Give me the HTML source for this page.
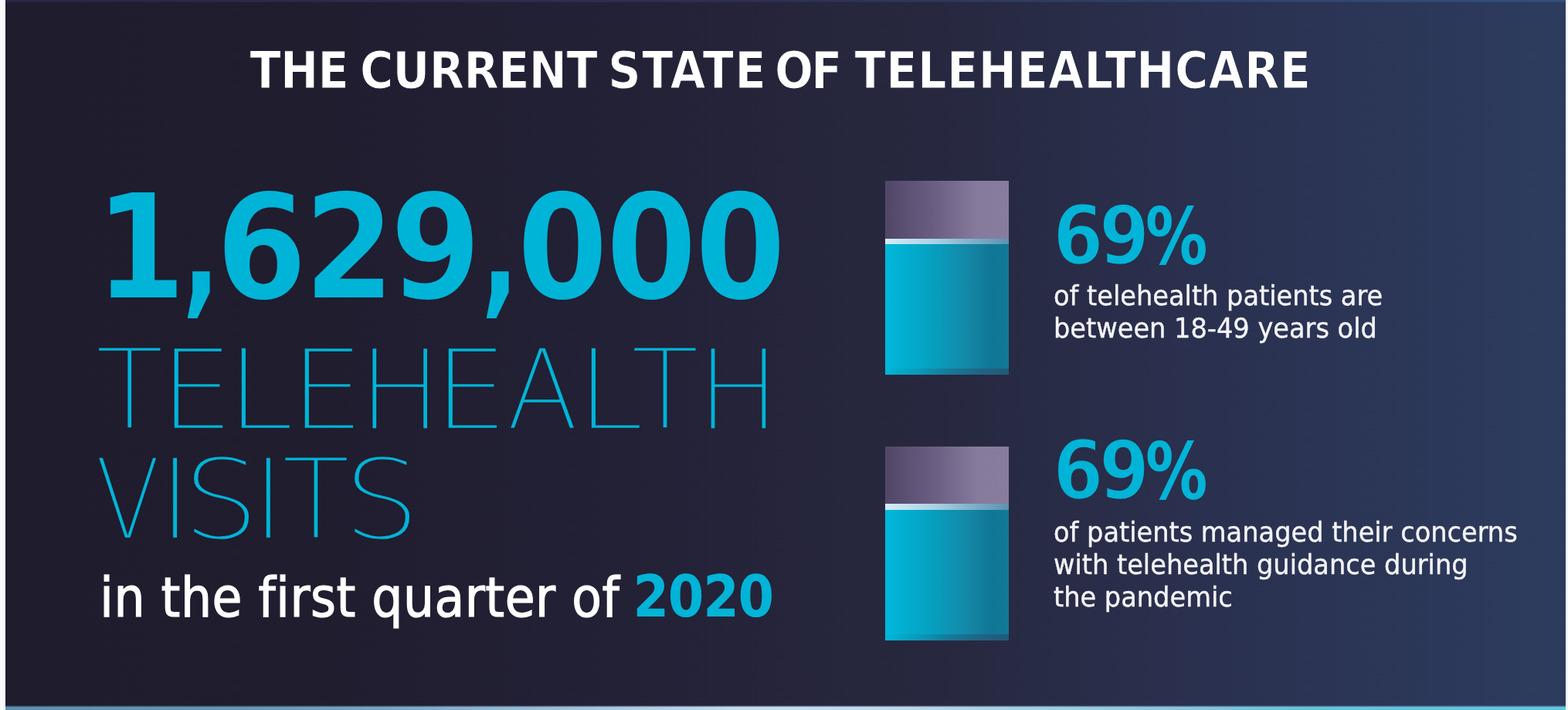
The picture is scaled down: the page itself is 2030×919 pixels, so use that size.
<!DOCTYPE html>
<html lang="en">
<head>
<meta charset="utf-8">
<title>The Current State of Telehealthcare</title>
<style>
  html, body { margin: 0; padding: 0; overflow: hidden; }
  body {
    width: 2030px; height: 919px; overflow: hidden; position: relative;
    background: #f8f9fc;
  }
  .panel {
    position: absolute; left: 7px; top: 0; width: 2020px; height: 919px;
    background: linear-gradient(90deg, #1f1c2e 0%, #201d2f 20%, #232136 40%, #27283f 60%, #2a3150 78%, #2d3c5e 100%);
    overflow: hidden;
  }
  .topline {
    position: absolute; left: 0; top: 0; width: 100%; height: 3.4px;
    background: linear-gradient(90deg, #2c2447 0%, #2e3152 50%, #30507a 100%);
    -webkit-mask-image: linear-gradient(to bottom, #000 2px, transparent 3.4px);
    mask-image: linear-gradient(to bottom, #000 2px, transparent 3.4px);
  }
  .botline {
    position: absolute; left: 0; bottom: 0; width: 100%; height: 6px;
    background: linear-gradient(90deg, #5a92b0 0%, #6399b4 15%, #77a9c8 25%, #9bbfd8 35%, #c4dcee 47%, #c2dcee 55%, #b3d4e8 60%, #98cfe2 68%, #8cc6de 74%, #6ac0da 84%, #64c4e0 100%);
    -webkit-mask-image: linear-gradient(to bottom, transparent 0, #000 2.5px);
    mask-image: linear-gradient(to bottom, transparent 0, #000 2.5px);
  }
  .t { position: absolute; white-space: nowrap; line-height: 1; margin: 0; font-variant-ligatures: none; }
  .dc { font-family: "DejaVu Sans Condensed", "DejaVu Sans", sans-serif; font-stretch: condensed; }
  .title { color: #ffffff; font-weight: bold; font-size: 65.4px; letter-spacing: -0.6px; }
  .cyan { color: #00b4d7; }
  .big { font-weight: bold; font-size: 189.5px; }
  .thin { font-family: "DejaVu Sans", sans-serif; font-weight: 200; font-size: 144px; color: #00b4d7; }
  .sub { color: #ffffff; font-size: 70.3px; letter-spacing: 0.52px; -webkit-text-stroke: 1.2px #ffffff; }
  .sub b { color: #00b4d7; font-weight: bold; font-size: 74.5px; letter-spacing: -1.3px; -webkit-text-stroke: 0; }
  .pct { font-weight: bold; font-size: 105px; color: #00b4d7; letter-spacing: -6px; -webkit-text-stroke: 2.4px #292e4a; }
  .pct span { margin-left: 0.2px; -webkit-text-stroke: 0; display: inline-block; transform: scale(0.85, 0.965); transform-origin: 0 88px; }
  .body { color: #f4f4f8; -webkit-text-stroke: 0.35px #f4f4f8; font-size: 35.7px; line-height: 42.2px; transform: scaleX(1.047); transform-origin: 0 0; }
  .bar { position: absolute; left: 1138.5px; width: 160.5px; height: 251.6px; }
  .bar .top { position: absolute; left: 0; top: 0; width: 100%; height: 74.8px;
    background: linear-gradient(90deg, #514668 0%, #6a5f82 40%, #867b9d 75%, #877c9e 100%); }
  .bar .strip { position: absolute; left: 0; top: 74.8px; width: 100%; height: 7.9px;
    background: linear-gradient(90deg, #d3edf8 0%, #a9d2e4 40%, #7fb1ca 70%, #5a93b0 100%); }
  .bar .fill { position: absolute; left: 0; top: 82.7px; width: 100%; height: 168.9px;
    background: linear-gradient(90deg, #00b8da 0%, #05a2c2 35%, #1489a8 65%, #117797 85%, #127898 100%); }
  .bar .base { position: absolute; left: 0; bottom: 0; width: 100%; height: 8.5px;
    background: linear-gradient(90deg, #00b6d9 0%, #0a9bbb 25%, #167b9a 50%, #1f6585 75%, #245878 100%); }
</style>
</head>
<body>
<div class="panel">
  <div class="topline"></div>

  <div class="t dc title" style="left:316.4px; top:59.4px;"><span style="-webkit-text-stroke:1px #201d2f">THE</span><span style="margin-left:-5px"> </span><span style="-webkit-text-stroke:1px #221f33">CURRENT</span><span style="margin-left:-5.6px"> </span><span style="-webkit-text-stroke:1px #242238;letter-spacing:1.55px">STATE</span><span style="margin-left:-10.2px"> </span><span style="-webkit-text-stroke:1px #25253b;letter-spacing:-3.00px">OF</span><span style="margin-left:-0.4px"> </span><span style="-webkit-text-stroke:1px #282c47;letter-spacing:0.55px">TELEHEALTHCARE</span></div>

  <div class="t dc big cyan" style="left:115.4px; top:226.2px;"><span style="margin-right:-12.6px;-webkit-text-stroke:2px #1f1c2e">1</span><span style="margin-right:-14.0px;-webkit-text-stroke:2px #201d2f;display:inline-block;transform:scaleX(0.8)">,</span><span style="margin-right:-4.8px;-webkit-text-stroke:2px #201d2f">6</span><span style="margin-right:-6.8px;-webkit-text-stroke:2px #201d30">2</span><span style="margin-right:-8.8px;-webkit-text-stroke:2px #211f32">9</span><span style="margin-right:-10.4px;-webkit-text-stroke:2px #221f33;display:inline-block;transform:scaleX(0.8)">,</span><span style="margin-right:-3.8px;-webkit-text-stroke:2px #222034">0</span><span style="margin-right:-3.4px;-webkit-text-stroke:2px #232137">0</span><span style="-webkit-text-stroke:2px #242339">0</span></div>
  <div class="t thin" style="left:116.7px; top:432.7px;"><span style="margin-right:-2.2px;-webkit-text-stroke:2.4px #1f1c2e">T</span><span style="margin-right:-8.4px;-webkit-text-stroke:2.4px #201d2f;display:inline-block;transform:scaleX(1.07)">E</span><span style="margin-right:6.2px;-webkit-text-stroke:2.4px #201d2f;display:inline-block;transform:scaleX(1.11);transform-origin:0 0">L</span><span style="margin-right:-5.85px;-webkit-text-stroke:2.4px #201d2f;display:inline-block;transform:scaleX(1.07)">E</span><span style="margin-right:-7.65px;-webkit-text-stroke:2.4px #211e31">H</span><span style="margin-right:-2.1px;-webkit-text-stroke:2.4px #211f32;display:inline-block;transform:scaleX(1.07)">E</span><span style="margin-right:-6.2px;-webkit-text-stroke:2.4px #222034;display:inline-block;transform:scaleX(0.95)">A</span><span style="margin-right:-8.7px;-webkit-text-stroke:2.4px #232136;display:inline-block;transform:scaleX(1.11);transform-origin:0 0">L</span><span style="margin-right:-3.0px;-webkit-text-stroke:2.4px #232237">T</span><span style="-webkit-text-stroke:2.4px #242339">H</span></div>
  <div class="t thin" style="left:116.25px; top:574.5px; letter-spacing:-5.2px;"><span style="margin-right:-11.0px;-webkit-text-stroke:2.4px #1f1c2e;display:inline-block;transform:scaleX(0.86);transform-origin:0 0">V</span><span style="margin-right:-2.5px;-webkit-text-stroke:2.4px #201d2f">I</span><span style="margin-right:-0.35px;-webkit-text-stroke:2.4px #201d2f;display:inline-block;transform:scaleX(1.1)">S</span><span style="margin-right:1.6px;-webkit-text-stroke:2.4px #201d2f">I</span><span style="margin-right:0.2px;-webkit-text-stroke:2.4px #201d2f">T</span><span style="-webkit-text-stroke:2.4px #211e30;display:inline-block;transform:scaleX(1.1)">S</span></div>
  <div class="t dc sub" style="left:122.3px; top:736.0px;">in the first quarter of<span style="margin-left:-3.3px"> </span><b>2020</b></div>

  <div class="bar" style="top:233.8px;"><div class="top"></div><div class="strip"></div><div class="fill"></div><div class="base"></div></div>
  <div class="bar" style="top:577.5px;"><div class="top"></div><div class="strip"></div><div class="fill"></div><div class="base"></div></div>

  <div class="t dc pct" style="left:1356px; top:253.8px;">69<span>%</span></div>
  <div class="t dc body" style="left:1357px; top:362.2px;">of telehealth patients are<br>between 18-49 years old</div>

  <div class="t dc pct" style="left:1356px; top:558.2px;">69<span>%</span></div>
  <div class="t dc body" style="left:1357px; top:667.6px;">of patients managed their concerns<br>with telehealth guidance during<br>the pandemic</div>

  <div class="botline"></div>
</div>
</body>
</html>
